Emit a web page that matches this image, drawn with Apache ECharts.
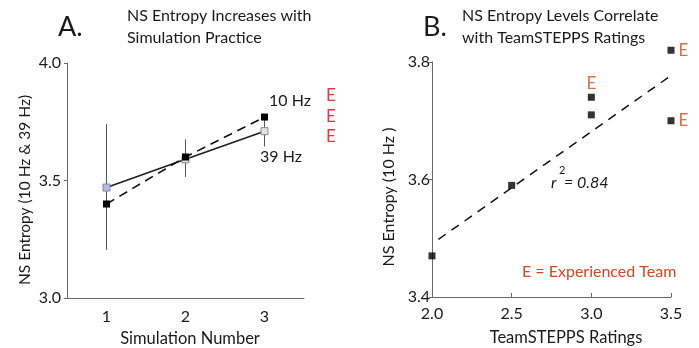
<!DOCTYPE html>
<html><head><meta charset="utf-8">
<script src="https://cdn.jsdelivr.net/npm/echarts@6/dist/echarts.min.js"></script>
<style>html,body{margin:0;padding:0;background:#fff}#c{width:699px;height:348px}</style>
</head><body><div id="c"></div>
<script>
// Panel A data
var simNumbers = ['1', '2', '3'];
var entropy10Hz = [3.40, 3.60, 3.77];
var entropy39Hz = [3.47, 3.59, 3.71];
var err39Low = [3.205, 3.515, 3.645];
var err39High = [3.74, 3.675, 3.77];
var yTicksA = [3.0, 3.5, 4.0];
// Panel B data
var teamRatings = [2.0, 2.5, 3.0, 3.0, 3.5, 3.5];
var teamEntropy = [3.47, 3.59, 3.74, 3.71, 3.82, 3.70];
var experienced = [false, false, true, false, true, true];
var fitRatings = [2.04, 3.5];
var fitEntropy = [3.498, 3.777];
var xTicksB = [2.0, 2.5, 3.0, 3.5];
var yTicksB = [3.4, 3.6, 3.8];

var FONT = 'Lato';
var TXT = '#1a1a1a';
var AX = '#6a6a6a';
var chart = echarts.init(document.getElementById('c'), null, {renderer: 'canvas'});

function fmt1(v){ return Number(v).toFixed(1); }

var option = {
  backgroundColor: '#fff',
  animation: false,
  textStyle: {fontFamily: FONT},
  grid: [
    {left: 67, top: 63, width: 237, height: 235},
    {left: 432, top: 62, width: 239, height: 235}
  ],
  xAxis: [
    {gridIndex: 0, type: 'category', data: simNumbers, boundaryGap: true,
     axisLine: {lineStyle: {color: AX, width: 1}},
     axisTick: {inside: true, length: 4, lineStyle: {color: AX}},
     axisLabel: {margin: 11, fontSize: 16, color: TXT, fontFamily: FONT},
     splitLine: {show: false}},
    {gridIndex: 1, type: 'value', min: xTicksB[0], max: xTicksB[xTicksB.length-1], interval: 0.5,
     axisLine: {lineStyle: {color: AX, width: 1}},
     axisTick: {inside: true, length: 4, lineStyle: {color: AX}},
     axisLabel: {margin: 9, fontSize: 16, color: TXT, fontFamily: FONT, formatter: fmt1},
     splitLine: {show: false}}
  ],
  yAxis: [
    {gridIndex: 0, type: 'value', min: yTicksA[0], max: yTicksA[yTicksA.length-1], interval: 0.5,
     axisLine: {show: true, lineStyle: {color: AX, width: 1}},
     axisTick: {show: true, inside: false, length: 3, lineStyle: {color: AX}},
     axisLabel: {margin: 6, fontSize: 16, color: TXT, fontFamily: FONT, formatter: fmt1},
     splitLine: {show: false}},
    {gridIndex: 1, type: 'value', min: yTicksB[0], max: yTicksB[yTicksB.length-1], interval: 0.2,
     axisLine: {show: true, lineStyle: {color: AX, width: 1}},
     axisTick: {show: true, inside: false, length: 3, lineStyle: {color: AX}},
     axisLabel: {margin: 2, fontSize: 16, color: TXT, fontFamily: FONT, formatter: fmt1},
     splitLine: {show: false}}
  ],
  series: [
    {
      type: 'custom', xAxisIndex: 0, yAxisIndex: 0, clip: false, z: 1,
      data: simNumbers.map(function(s, i){ return [i, err39Low[i], err39High[i]]; }),
      renderItem: function(params, api){
        var lo = api.coord([api.value(0), api.value(1)]);
        var hi = api.coord([api.value(0), api.value(2)]);
        return {type: 'line', shape: {x1: lo[0], y1: lo[1], x2: hi[0], y2: hi[1]},
                style: {stroke: '#555', lineWidth: 1}};
      }
    },
    {
      name: '39 Hz', type: 'line', xAxisIndex: 0, yAxisIndex: 0, z: 2,
      data: entropy39Hz, symbol: 'rect', symbolSize: 7, showAllSymbol: true,
      lineStyle: {color: '#1e1e1e', width: 1.6, type: 'solid'},
      itemStyle: {
        color: function(p){ return p.dataIndex === 0 ? '#b8b8f0' : '#e2e2e2'; },
        borderColor: '#8a8a8a', borderWidth: 1
      }
    },
    {
      name: '10 Hz', type: 'line', xAxisIndex: 0, yAxisIndex: 0, z: 3,
      data: entropy10Hz, symbol: 'rect', symbolSize: 7, showAllSymbol: true,
      lineStyle: {color: '#111', width: 1.6, type: [9, 6]},
      itemStyle: {color: '#000', borderWidth: 0}
    },
    {
      name: 'fit', type: 'line', xAxisIndex: 1, yAxisIndex: 1, z: 2,
      data: fitRatings.map(function(x, i){ return [x, fitEntropy[i]]; }),
      symbol: 'none', lineStyle: {color: '#111', width: 1.5, type: [9, 7]}
    },
    {
      name: 'teams', type: 'scatter', xAxisIndex: 1, yAxisIndex: 1, z: 3, clip: false,
      data: teamRatings.map(function(x, i){
        var d = {value: [x, teamEntropy[i]]};
        if (experienced[i]) {
          d.label = {show: true, formatter: 'E', position: x < 3.5 ? 'top' : 'right',
                     distance: x < 3.5 ? 2 : 4, color: '#d0481f', fontSize: 17, fontFamily: FONT};
        }
        return d;
      }),
      symbol: 'rect', symbolSize: 7, itemStyle: {color: '#000'}
    }
  ],
  graphic: [
    {type: 'text', left: 58, top: 14, style: {text: 'A.', font: '27px ' + FONT, fill: TXT}},
    {type: 'text', left: 127, top: 8, style: {text: 'NS Entropy Increases with', font: '16px ' + FONT, fill: TXT}},
    {type: 'text', left: 127, top: 30, style: {text: 'Simulation Practice', font: '16px ' + FONT, fill: TXT}},
    {type: 'text', left: 423, top: 14, style: {text: 'B.', font: '27px ' + FONT, fill: TXT}},
    {type: 'text', left: 462, top: 8, style: {text: 'NS Entropy Levels Correlate', font: '16px ' + FONT, fill: TXT}},
    {type: 'text', left: 462, top: 30, style: {text: 'with TeamSTEPPS Ratings', font: '16px ' + FONT, fill: TXT}},
    {type: 'text', x: 25, y: 190, rotation: Math.PI/2, style: {text: 'NS Entropy (10 Hz & 39 Hz)', font: '15.5px ' + FONT, fill: TXT, align: 'center', verticalAlign: 'middle'}},
    {type: 'text', x: 190, y: 339, style: {text: 'Simulation Number', font: '16.5px ' + FONT, fill: TXT, align: 'center', verticalAlign: 'middle'}},
    {type: 'text', x: 389, y: 197, rotation: Math.PI/2, style: {text: 'NS Entropy (10 Hz )', font: '16px ' + FONT, fill: TXT, align: 'center', verticalAlign: 'middle'}},
    {type: 'text', x: 566, y: 338, style: {text: 'TeamSTEPPS Ratings', font: '16.5px ' + FONT, fill: TXT, align: 'center', verticalAlign: 'middle'}},
    {type: 'text', x: 269, y: 101, style: {text: '10 Hz', font: '16px ' + FONT, fill: TXT, verticalAlign: 'middle'}},
    {type: 'text', x: 260, y: 157, style: {text: '39 Hz', font: '16px ' + FONT, fill: TXT, verticalAlign: 'middle'}},
    {type: 'text', x: 331, y: 96, style: {text: 'E', font: '17px ' + FONT, fill: '#e8353f', align: 'center', verticalAlign: 'middle'}},
    {type: 'text', x: 331, y: 117, style: {text: 'E', font: '17px ' + FONT, fill: '#e8353f', align: 'center', verticalAlign: 'middle'}},
    {type: 'text', x: 331, y: 137, style: {text: 'E', font: '17px ' + FONT, fill: '#e8353f', align: 'center', verticalAlign: 'middle'}},
    {type: 'text', x: 551, y: 183, style: {text: 'r', font: 'italic 16px ' + FONT, fill: TXT, verticalAlign: 'middle'}},
    {type: 'text', x: 559, y: 170, style: {text: '2', font: '11px ' + FONT, fill: TXT, verticalAlign: 'middle'}},
    {type: 'text', x: 564, y: 183, style: {text: '= 0.84', font: 'italic 16px ' + FONT, fill: TXT, verticalAlign: 'middle'}},
    {type: 'text', x: 522, y: 272, style: {text: 'E = Experienced Team', font: '16px ' + FONT, fill: '#d0481f', verticalAlign: 'middle'}}
  ]
};
chart.setOption(option);
</script>
</body></html>
